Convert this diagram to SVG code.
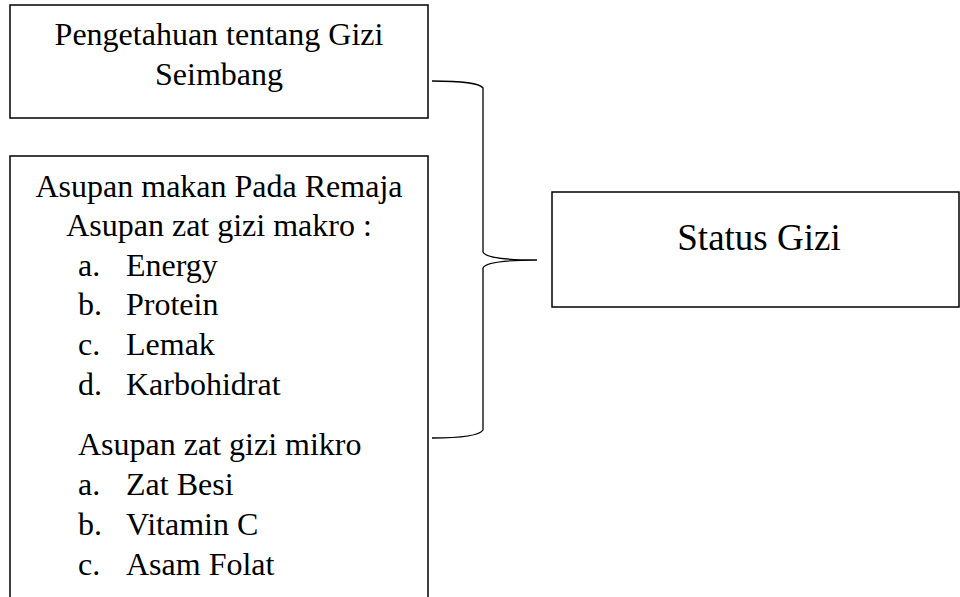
<svg xmlns="http://www.w3.org/2000/svg" width="960" height="597" viewBox="0 0 960 597">
<style>
.box{fill:#fff;stroke:#000;stroke-width:1.5}
text{font-family:'Liberation Serif','Times New Roman',Times,'DejaVu Serif',serif;font-size:32px;fill:#000}
.c{text-anchor:middle}
.conn{fill:none;stroke:#000;stroke-width:1.3}
</style>
<rect width="960" height="597" fill="#fff"/>
<g id="node-pengetahuan">
<rect class="box" x="10" y="5" width="418" height="113"/>
<text class="c" x="219" y="45">Pengetahuan tentang Gizi</text>
<text class="c" x="219" y="85">Seimbang</text>
</g>
<g id="node-asupan">
<rect class="box" x="10" y="156" width="418" height="450"/>
<text class="c" x="219" y="197">Asupan makan Pada Remaja</text>
<text class="c" x="219" y="236">Asupan zat gizi makro :</text>
<text x="78" y="276">a.</text><text x="126" y="276">Energy</text>
<text x="78" y="315">b.</text><text x="126" y="315">Protein</text>
<text x="78" y="355">c.</text><text x="126" y="355">Lemak</text>
<text x="78" y="395">d.</text><text x="126" y="395">Karbohidrat</text>
<text x="78" y="455">Asupan zat gizi mikro</text>
<text x="78" y="495">a.</text><text x="126" y="495">Zat Besi</text>
<text x="78" y="535">b.</text><text x="126" y="535">Vitamin C</text>
<text x="78" y="575">c.</text><text x="126" y="575">Asam Folat</text>
</g>
<g id="node-status">
<rect class="box" x="552" y="192" width="407" height="115"/>
<text class="c" x="759" y="250" font-size="37" style="font-size:37px">Status Gizi</text>
</g>
<g id="connectors">
<path class="conn" d="M432 81 Q478 81 483 88 L483 252 Q486 260 537 260 Q486 260 483 268 L483 430 Q478 438 432 438"/>
</g>
</svg>
